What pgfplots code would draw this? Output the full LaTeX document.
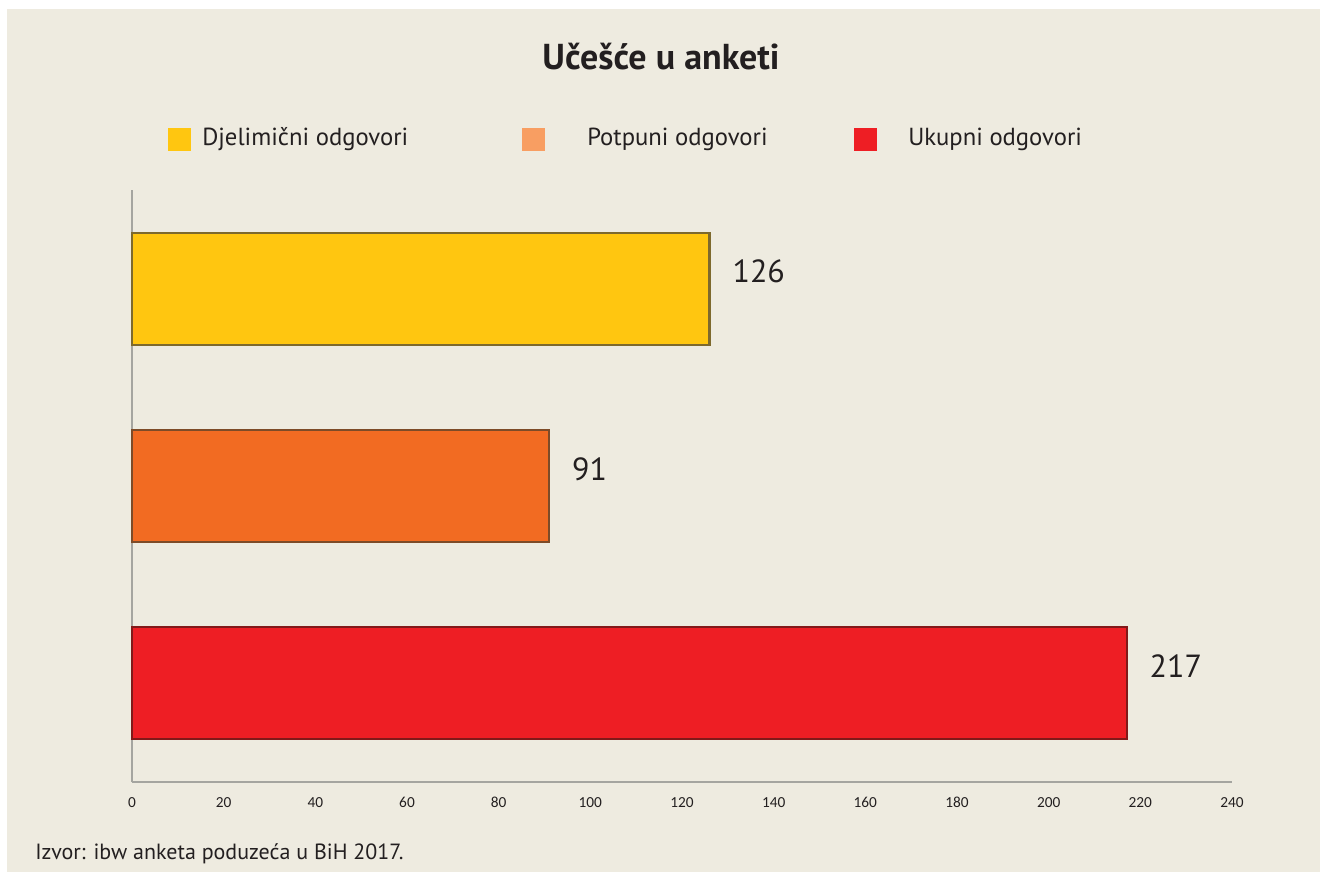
\documentclass[border=0pt]{standalone}
\usepackage{fontspec}
\usepackage{pgfplots}
\pgfplotsset{compat=1.18}
\setmainfont{PT Sans}
\newfontfamily\carlito{Carlito}
\definecolor{bg}{RGB}{238,235,224}
\definecolor{txt}{RGB}{35,31,32}
\definecolor{cyel}{RGB}{255,198,16}
\definecolor{cora}{RGB}{242,107,34}
\definecolor{cred}{RGB}{238,30,36}
\definecolor{lora}{RGB}{248,158,98}
\definecolor{eyel}{RGB}{125,105,45}
\definecolor{eora}{RGB}{125,75,40}
\definecolor{ered}{RGB}{130,25,25}
\definecolor{axg}{RGB}{165,165,160}
\begin{document}
\begin{tikzpicture}
\fill[white] (0,0) rectangle (990pt,654pt);
\fill[bg] (5.25pt,0) rectangle (990pt,647.25pt);
\node[font=\fontsize{27}{32}\selectfont\bfseries, text=txt] at (495.75pt,611.25pt) {Učešće u anketi};
% legend
\fill[cyel] (125.9pt,540.8pt) rectangle +(17.25pt,17.25pt);
\fill[lora] (391.5pt,540.8pt) rectangle +(17.25pt,17.25pt);
\fill[cred] (640.5pt,540.8pt) rectangle +(17.25pt,17.25pt);
\node[anchor=base west, inner sep=0pt, font=\fontsize{18.5}{22}\selectfont, text=txt] at (151.5pt,544.5pt) {Djelimični odgovori};
\node[anchor=base west, inner sep=0pt, font=\fontsize{18.5}{22}\selectfont, text=txt] at (440.25pt,544.5pt) {Potpuni odgovori};
\node[anchor=base west, inner sep=0pt, font=\fontsize{18.5}{22}\selectfont, text=txt] at (681pt,544.5pt) {Ukupni odgovori};
\node[anchor=base west, inner sep=0pt, font=\fontsize{16.5}{19}\selectfont, text=txt] at (26.25pt,9.75pt) {Izvor: ibw anketa poduzeća u BiH 2017.};
\begin{axis}[
  at={(99pt,67.5pt)}, anchor=south west,
  scale only axis, width=825pt, height=444pt,
  xmin=0, xmax=240, ymin=0, ymax=3,
  axis x line=bottom, axis y line=left,
  axis line style={axg, line width=1.1pt, -},
  xtick={0,20,...,240},
  xticklabels={0,20,40,60,80,100,120,140,160,180,200,220,240},
  xticklabel style={font=\carlito\fontsize{11.5}{13}\selectfont, text=txt, anchor=base, yshift=-18.75pt, inner sep=0pt},
  ytick=\empty, major tick length=0pt,
  /pgf/number format/assume math mode=true,
  xbar, bar width=0.567, bar shift=0pt,
  clip=false,
  nodes near coords,
  every node near coord/.append style={font=\fontsize{24}{28}\selectfont, text=txt, anchor=base west, xshift=16.5pt, yshift=4.5pt, inner sep=0pt},
]
\addplot[fill=cred, draw=ered, line width=1.6pt] coordinates {(217,0.5)};
\addplot[fill=cora, draw=eora, line width=1.6pt] coordinates {(91,1.5)};
\addplot[fill=cyel, draw=eyel, line width=1.6pt] coordinates {(126,2.5)};
\end{axis}
\end{tikzpicture}
\end{document}
